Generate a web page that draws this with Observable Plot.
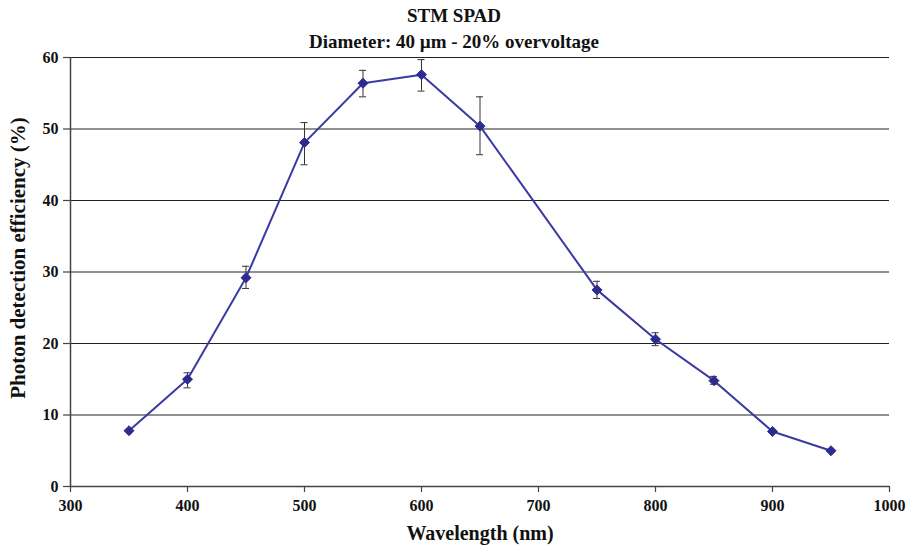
<!DOCTYPE html>
<html>
<head>
<meta charset="utf-8">
<script src="https://cdn.jsdelivr.net/npm/d3@7"></script>
<script src="https://cdn.jsdelivr.net/npm/@observablehq/plot@0.6"></script>
<style>
  html, body { margin: 0; padding: 0; background: #fff; }
  #wrap { width: 908px; font-family: "Liberation Serif", Tinos, "DejaVu Serif", serif; }
  .title { text-align: center; font-weight: bold; font-size: 19px; color: #111; line-height: 1; }
  #t1 { padding-top: 6px; height: 26px; }
  #t2 { height: 16px; }
</style>
</head>
<body>
<div id="wrap">
  <div class="title" id="t1">STM SPAD</div>
  <div class="title" id="t2">Diameter: 40 µm - 20% overvoltage</div>
  <div id="chart"></div>
</div>
<script>
// Photon detection efficiency of the SPAD versus wavelength, with error bars
const wavelength = [350, 400, 450, 500, 550, 600, 650, 750, 800, 850, 900, 950];
const pde        = [7.8, 15.0, 29.2, 48.1, 56.4, 57.6, 50.4, 27.5, 20.6, 14.8, 7.7, 5.0];
const pdeLow     = [null, 13.8, 27.7, 45.0, 54.5, 55.3, 46.4, 26.3, 19.7, 14.3, null, null];
const pdeHigh    = [null, 15.9, 30.8, 50.9, 58.2, 59.7, 54.5, 28.7, 21.5, 15.4, null, null];
const xTicks = [300, 400, 500, 600, 700, 800, 900, 1000];
const yTicks = [0, 10, 20, 30, 40, 50, 60];
const xLabel = "Wavelength (nm)";
const yLabel = "Photon detection efficiency (%)";

const rows = wavelength.map((w, i) => ({w, v: pde[i], lo: pdeLow[i], hi: pdeHigh[i]}));
const bars = rows.filter(d => d.lo != null);
const capHalf = 3; // half-width of error bar caps, in nm

const lineColor = "#3a3aa2";
const dotColor = "#2c2c8e";
const serif = "'Liberation Serif', Tinos, 'DejaVu Serif', serif";

const chart = Plot.plot({
  width: 908,
  height: 504,
  marginTop: 9,
  marginLeft: 70,
  marginRight: 19,
  marginBottom: 66,
  style: {fontFamily: serif, fontSize: "16px", fontWeight: "bold", color: "#111"},
  x: {domain: [300, 1000]},
  y: {domain: [0, 60]},
  marks: [
    // horizontal gridlines
    Plot.ruleY(yTicks.filter(t => t > 0), {stroke: "#222", strokeWidth: 1.2}),
    // axis lines
    Plot.ruleX([300], {stroke: "#444", strokeWidth: 1.5}),
    Plot.ruleY([0], {stroke: "#444", strokeWidth: 1.5}),
    Plot.axisY(yTicks, {tickSize: 7, tickPadding: 5, stroke: "#444", strokeWidth: 1.2, label: null, fontSize: 16, fontWeight: "bold", fontFamily: serif, tickFormat: d3.format("d")}),
    Plot.axisX(xTicks, {tickSize: 6, tickPadding: 7, stroke: "#444", strokeWidth: 1.2, label: null, fontSize: 16, fontWeight: "bold", fontFamily: serif, tickFormat: d3.format("d")}),
    // error bars
    Plot.ruleX(bars, {x: "w", y1: "lo", y2: "hi", stroke: "#333", strokeWidth: 1}),
    Plot.ruleY(bars, {y: "lo", x1: d => d.w - capHalf, x2: d => d.w + capHalf, stroke: "#333", strokeWidth: 1}),
    Plot.ruleY(bars, {y: "hi", x1: d => d.w - capHalf, x2: d => d.w + capHalf, stroke: "#333", strokeWidth: 1}),
    // series
    Plot.line(rows, {x: "w", y: "v", stroke: lineColor, strokeWidth: 2}),
    Plot.dot(rows, {x: "w", y: "v", symbol: "diamond2", r: 4.5, fill: dotColor, stroke: dotColor, strokeWidth: 1}),
    // axis titles
    Plot.text([xLabel], {frameAnchor: "bottom", dy: 53, fontSize: 20, fontWeight: "bold", fontFamily: serif, fill: "#111"}),
    Plot.text([yLabel], {frameAnchor: "left", textAnchor: "middle", dx: -52, dy: -14, rotate: -90, fontSize: 21, fontWeight: "bold", fontFamily: serif, fill: "#111", style: "word-spacing: 10px"})
  ]
});
document.getElementById("chart").appendChild(chart);
</script>
</body>
</html>
